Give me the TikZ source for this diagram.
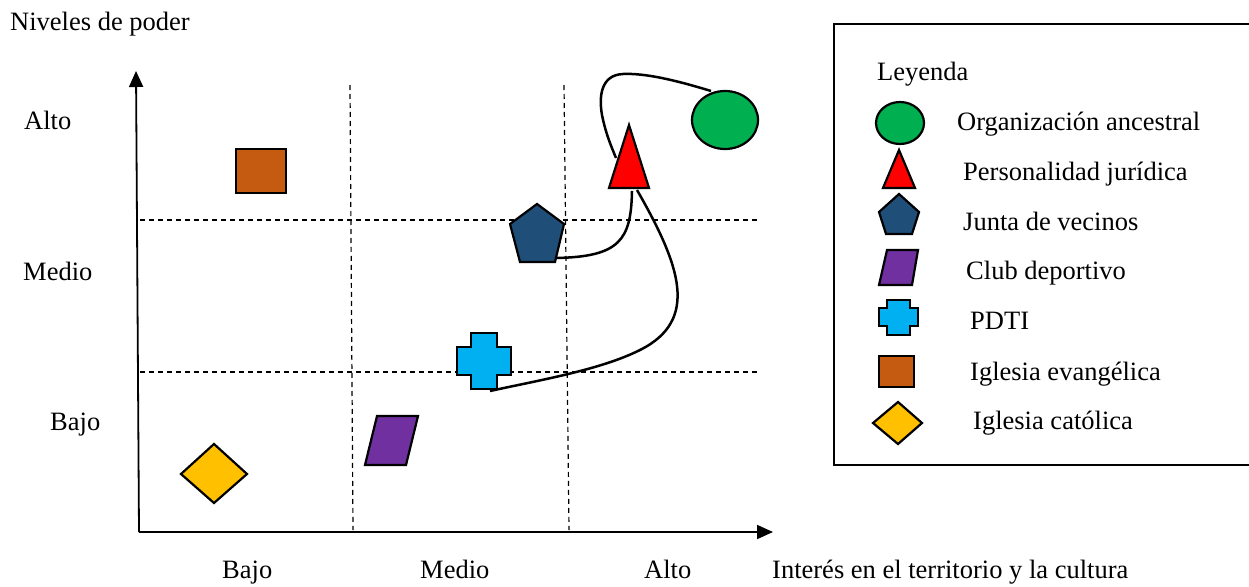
\documentclass[tikz,border=0pt]{standalone}
\usepackage{fontspec}
\setmainfont{Liberation Serif}
\usetikzlibrary{arrows.meta}
\definecolor{cgreen}{HTML}{00B050}
\definecolor{cred}{HTML}{FF0000}
\definecolor{cnavy}{HTML}{1F4E79}
\definecolor{cpurple}{HTML}{7030A0}
\definecolor{ccyan}{HTML}{00B0F0}
\definecolor{cbrown}{HTML}{C55A11}
\definecolor{cyellow}{HTML}{FFC000}
\tikzset{
  shp/.style={draw=black, line width=2.2pt, line join=miter},
  gridline/.style={line width=1.2pt, dash pattern=on 5pt off 4pt},
  link/.style={line width=2.5pt},
  axisline/.style={line width=1.8pt, -{Triangle[length=16pt,width=14pt]}},
  lbl/.style={anchor=base west, inner sep=0pt, font=\fontsize{26.5pt}{32pt}\selectfont},
  frame/.style={line width=2.5pt}
}
\begin{document}
\begin{tikzpicture}[x=1pt,y=-1pt]
\useasboundingbox (0,0) rectangle (1249,586);

% axes
\coordinate (O) at (139,532);
\coordinate (ytip) at (136,71);
\coordinate (xtip) at (773,532);
\draw[axisline] (O) -- (ytip);
\draw[axisline] (O) -- (xtip);

% grid
\coordinate (v1t) at (350,85);  \coordinate (v1b) at (353,530);
\coordinate (v2t) at (564,85);  \coordinate (v2b) at (569,530);
\coordinate (h1l) at (140,220); \coordinate (h1r) at (758,220);
\coordinate (h2l) at (140,372); \coordinate (h2r) at (758,372);
\draw[gridline] (v1t) -- (v1b);
\draw[gridline] (v2t) -- (v2b);
\draw[gridline] (h1l) -- (h1r);
\draw[gridline] (h2l) -- (h2r);

% axis labels
\node[lbl] (ylab) at (10,31) {Niveles de poder};
\node[lbl] (yalto) at (24,129) {Alto};
\node[lbl] (ymedio) at (23,280) {Medio};
\node[lbl] (ybajo) at (50,430) {Bajo};
\node[lbl] (xbajo) at (222,578) {Bajo};
\node[lbl] (xmedio) at (420,578) {Medio};
\node[lbl] (xalto) at (644,578) {Alto};
\node[lbl] (xlab) at (772,578) {Interés en el territorio y la cultura};

% chart shapes
\draw[shp, fill=cgreen] (725,120) ellipse [x radius=33, y radius=29];
\coordinate (org) at (711,91);
\draw[shp, fill=cred] (629,125) -- (649,188) -- (609,188) -- cycle;
\coordinate (triL) at (616,158);
\coordinate (triB) at (632,191);
\coordinate (triR) at (637,190);
\draw[shp, fill=cnavy] (537,204) -- (564,224) -- (555,262) -- (520,262) -- (510,224) -- cycle;
\coordinate (junta) at (555,258);
\draw[shp, fill=ccyan] (471,333) -- (497,333) -- (497,347) -- (511,347) -- (511,375) -- (497,375) -- (497,389) -- (471,389) -- (471,375) -- (457,375) -- (457,347) -- (471,347) -- cycle;
\coordinate (pdti) at (490,391);
\draw[shp, fill=cbrown] (236,149) rectangle (286,193);
\draw[shp, fill=cyellow] (181,474) -- (214,444) -- (247,474) -- (214,503) -- cycle;
\draw[shp, fill=cpurple] (377,416) -- (418,416) -- (406,465) -- (365,465) -- cycle;

% connectors
\draw[link] (org) .. controls (675,80) and (645,73) .. (623,74)
  .. controls (600,75) and (599,98) .. (602,115)
  .. controls (606,135) and (612,148) .. (triL);
\draw[link] (triB) .. controls (631,240) and (620,257) .. (junta);
\draw[link] (triR) .. controls (680,265) and (700,320) .. (640,350)
  .. controls (600,370) and (540,380) .. (pdti);

% legend (frame open on the right, cut by the page edge)
\coordinate (fa) at (1249,24);
\coordinate (fb) at (834,24);
\coordinate (fc) at (834,465);
\coordinate (fd) at (1249,465);
\draw[frame] (fa) -- (fb) -- (fc) -- (fd);
\node[lbl] (leg) at (877,81) {Leyenda};
\draw[shp, fill=cgreen] (900,123) ellipse [x radius=24, y radius=21];
\node[lbl] (l1) at (957,130) {Organización ancestral};
\draw[shp, fill=cred] (899,150) -- (915,188) -- (883,188) -- cycle;
\node[lbl] (l2) at (963,180) {Personalidad jurídica};
\draw[shp, fill=cnavy] (899,194) -- (919,212) -- (912,234) -- (886,234) -- (879,212) -- cycle;
\node[lbl] (l3) at (963,230) {Junta de vecinos};
\draw[shp, fill=cpurple] (887,250) -- (918,250) -- (912,285) -- (879,285) -- cycle;
\node[lbl] (l4) at (966,279) {Club deportivo};
\draw[shp, fill=ccyan] (887,300) -- (910,300) -- (910,308) -- (918,308) -- (918,326) -- (910,326) -- (910,335) -- (887,335) -- (887,326) -- (879,326) -- (879,308) -- (887,308) -- cycle;
\node[lbl] (l5) at (970,329) {PDTI};
\draw[shp, fill=cbrown] (879,356) rectangle (914,387);
\node[lbl] (l6) at (970,380) {Iglesia evangélica};
\draw[shp, fill=cyellow] (873,423) -- (898,402) -- (922,423) -- (898,444) -- cycle;
\node[lbl] (l7) at (973,429) {Iglesia católica};
\end{tikzpicture}
\end{document}
